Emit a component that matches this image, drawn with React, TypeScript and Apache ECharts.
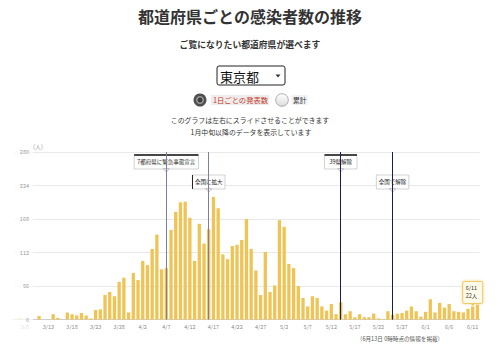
import React, { useEffect, useRef } from "react";
import * as echarts from "echarts";

// ---- data ----
const dates: string[] = [
  "3/6", "3/7", "3/8", "3/9", "3/10", "3/11", "3/12", "3/13", "3/14", "3/15",
  "3/16", "3/17", "3/18", "3/19", "3/20", "3/21", "3/22", "3/23", "3/24", "3/25",
  "3/26", "3/27", "3/28", "3/29", "3/30", "3/31",
  "4/1", "4/2", "4/3", "4/4", "4/5", "4/6", "4/7", "4/8", "4/9", "4/10",
  "4/11", "4/12", "4/13", "4/14", "4/15", "4/16", "4/17", "4/18", "4/19", "4/20",
  "4/21", "4/22", "4/23", "4/24", "4/25", "4/26", "4/27", "4/28", "4/29", "4/30",
  "5/1", "5/2", "5/3", "5/4", "5/5", "5/6", "5/7", "5/8", "5/9", "5/10",
  "5/11", "5/12", "5/13", "5/14", "5/15", "5/16", "5/17", "5/18", "5/19", "5/20",
  "5/21", "5/22", "5/23", "5/24", "5/25", "5/26", "5/27", "5/28", "5/29", "5/30", "5/31",
  "6/1", "6/2", "6/3", "6/4", "6/5", "6/6", "6/7", "6/8", "6/9", "6/10", "6/11", "6/12",
];

const dailyCases: number[] = [
  0, 3, 0, 0, 0, 6, 0, 0, 9, 3,
  0, 12, 9, 7, 11, 7, 2, 16, 17, 41,
  46, 39, 63, 70, 12, 78,
  66, 98, 91, 118, 142, 84, 86, 150, 180, 196,
  197, 170, 98, 160, 127, 151, 205, 186, 109, 101,
  123, 125, 133, 168, 118, 82, 41, 113, 46, 57,
  166, 155, 93, 86, 56, 36, 22, 39, 36, 22,
  15, 26, 9, 29, 9, 14, 4, 9, 4, 4,
  10, 2, 1, 14, 8, 10, 11, 15, 22, 14, 5,
  13, 34, 12, 28, 20, 26, 14, 13, 12, 18, 22, 25,
];

const tickDates: string[] = [
  "3/8", "3/13", "3/18", "3/23", "3/28", "4/2", "4/7", "4/12", "4/17", "4/22",
  "4/27", "5/2", "5/7", "5/12", "5/17", "5/22", "5/27", "6/1", "6/6", "6/11",
];

const eventDates: string[] = ["4/7", "4/16", "5/14", "5/25"];
const eventTexts: string[] = ["7都府県に緊急事態宣言", "全国に拡大", "39県解除", "全国で解除"];
const eventLineColors: string[] = ["#7d7d9e", "#7d7d9e", "#1b1b4d", "#1b1b4d"];

const yMin = 0;
const yMax = 280;
const yInterval = 56;

const tooltipDate = "6/11";
const unit = "人";

const FONT = "'Noto Sans CJK JP', 'Noto Sans', sans-serif";

export default function App() {
  const ref = useRef<HTMLDivElement>(null);

  useEffect(() => {
    if (!ref.current) return;
    const chart = echarts.init(ref.current, undefined, { renderer: "svg" });

    const option: any = {
      animation: false,
      textStyle: { fontFamily: FONT },
      grid: [
        { left: 33, right: 20.2, top: 152, bottom: 24.4 },
        { left: 13.1, right: 20.2, top: 152, bottom: 24.4 },
      ],
      xAxis: [
        { gridIndex: 0, type: "value", show: false, min: 0, max: 1 },
        {
          gridIndex: 1,
          type: "category",
          data: dates,
          axisTick: { show: false },
          axisLine: { lineStyle: { color: "#cfcfcf", width: 1 } },
          axisLabel: {
            interval: (i: number) => tickDates.includes(dates[i]),
            fontSize: 5.5,
            color: "#8a8a8a",
            margin: 5,
          },
        },
      ],
      yAxis: [
        {
          gridIndex: 0,
          type: "value",
          min: yMin,
          max: yMax,
          interval: yInterval,
          z: 10,
          name: "(" + unit + ")",
          nameLocation: "end",
          nameGap: 2,
          nameTextStyle: { align: "left", fontSize: 6, color: "#999" },
          axisLine: { show: false },
          axisTick: { show: false },
          splitLine: { show: false },
          axisLabel: { fontSize: 5.5, color: "#999", margin: 4 },
        },
        {
          gridIndex: 1,
          type: "value",
          min: yMin,
          max: yMax,
          interval: yInterval,
          axisLine: { show: false },
          axisTick: { show: false },
          axisLabel: { show: false },
          splitLine: { lineStyle: { color: "#e9e9e9", width: 1 } },
        },
      ],
      series: [
        {
          type: "bar",
          xAxisIndex: 1,
          yAxisIndex: 1,
          data: dailyCases,
          barCategoryGap: "30%",
          itemStyle: { color: "#EFC455" },
          markLine: {
            silent: true,
            symbol: ["none", "none"],
            label: { show: false },
            data: eventDates.map((d, i) => ({
              xAxis: d,
              lineStyle: { color: eventLineColors[i], width: 1, type: "solid" },
            })),
          },
        },
      ],
    };

    chart.setOption(option);

    const toPx = (d: string, v: number): number[] =>
      chart.convertToPixel({ seriesIndex: 0 }, [d, v]) as number[];

    const callouts: any[] = eventDates.map((d, i) => {
      const [cx] = toPx(d, 0);
      const level = i % 2;
      const top = level === 0 ? 155 : 175;
      const w = eventTexts[i].length * 5.3 + 6;
      const h = 14;
      const children: any[] = [
        {
          type: "rect",
          shape: { x: cx - w / 2, y: top, width: w, height: h },
          style: { fill: "#fff", stroke: "#b5b5b5", lineWidth: 0.6 },
        },
        {
          type: "polygon",
          shape: { points: [[cx - 3, top + h - 0.3], [cx + 3, top + h - 0.3], [cx, top + h + 3]] },
          style: { fill: "#fff", stroke: "#999", lineWidth: 0.6 },
        },
        {
          type: "text",
          style: {
            x: cx,
            y: top + h / 2,
            text: eventTexts[i],
            align: "center",
            verticalAlign: "middle",
            fontSize: 5.5,
            fill: "#222",
            fontFamily: FONT,
          },
        },
      ];
      if (i === 0 || i === 2) {
        children.push({
          type: "line",
          shape: { x1: cx - w / 2, y1: top, x2: cx + w / 2, y2: top },
          style: { stroke: "#111", lineWidth: 1.5 },
        });
      } else if (i === 1) {
        children.push({
          type: "line",
          shape: { x1: cx - w / 2, y1: top, x2: cx - w / 2, y2: top + h },
          style: { stroke: "#222", lineWidth: 1 },
        });
      }
      return { type: "group", z: 20, children };
    });

    const tipIdx = dates.indexOf(tooltipDate);
    const [tx, ty] = toPx(tooltipDate, dailyCases[tipIdx]);
    const tw = 20;
    const th = 22;
    const tTop = ty - 3 - th;
    const tooltipGroup = {
      type: "group",
      z: 30,
      children: [
        {
          type: "rect",
          shape: { x: tx - tw / 2, y: tTop, width: tw, height: th, r: 1.5 },
          style: {
            fill: "#fffbea",
            stroke: "#ecc95e",
            lineWidth: 1,
            shadowBlur: 3,
            shadowColor: "rgba(236,190,70,0.5)",
          },
        },
        {
          type: "polygon",
          shape: { points: [[tx - 2.5, tTop + th], [tx + 2.5, tTop + th], [tx, tTop + th + 2.5]] },
          style: { fill: "#ecc95e" },
        },
        {
          type: "text",
          style: {
            x: tx - tw / 2 + 3,
            y: tTop + th / 2,
            text: tooltipDate + "\n" + dailyCases[tipIdx] + unit,
            align: "left",
            verticalAlign: "middle",
            fontSize: 5.5,
            lineHeight: 8,
            fill: "#333",
            fontFamily: FONT,
          },
        },
      ],
    };

    const staticGraphics: any[] = [
      {
        type: "text",
        z: 20,
        style: {
          x: 250, y: 16, text: "都道府県ごとの感染者数の推移",
          align: "center", verticalAlign: "middle",
          fontSize: 16, fontWeight: "bold", fill: "#333", fontFamily: FONT,
        },
      },
      {
        type: "text",
        z: 20,
        style: {
          x: 250, y: 44, text: "ご覧になりたい都道府県が選べます",
          align: "center", verticalAlign: "middle",
          fontSize: 8.8, fontWeight: "bold", fill: "#333", fontFamily: FONT,
        },
      },
      {
        type: "rect",
        z: 20,
        shape: { x: 217, y: 66, width: 68, height: 19, r: 2 },
        style: { fill: "#fff", stroke: "#222", lineWidth: 1 },
      },
      {
        type: "text",
        z: 21,
        style: {
          x: 220, y: 76, text: "東京都", align: "left", verticalAlign: "middle",
          fontSize: 13, fill: "#111", fontFamily: FONT,
        },
      },
      {
        type: "polygon",
        z: 21,
        shape: { points: [[275.5, 74.5], [280.5, 74.5], [278, 77.5]] },
        style: { fill: "#333" },
      },
      { type: "circle", z: 20, shape: { cx: 200, cy: 100, r: 6.5 }, style: { fill: "#4f4f4f" } },
      { type: "circle", z: 21, shape: { cx: 200, cy: 100, r: 4 }, style: { fill: "#9a9a9a" } },
      { type: "circle", z: 22, shape: { cx: 200, cy: 100, r: 2.5 }, style: { fill: "#3c3c3c" } },
      {
        type: "rect",
        z: 20,
        shape: { x: 211, y: 95, width: 58, height: 10 },
        style: { fill: "#f1ecec" },
      },
      {
        type: "text",
        z: 21,
        style: {
          x: 213, y: 100, text: "1日ごとの発表数", align: "left", verticalAlign: "middle",
          fontSize: 7.3, fill: "#c0392b", fontFamily: FONT,
        },
      },
      {
        type: "circle",
        z: 20,
        shape: { cx: 282, cy: 100, r: 6.3 },
        style: {
          fill: new echarts.graphic.LinearGradient(0, 0, 0, 1, [
            { offset: 0, color: "#ffffff" },
            { offset: 1, color: "#dcdcdc" },
          ]),
          stroke: "#9a9a9a",
          lineWidth: 0.8,
        },
      },
      {
        type: "rect",
        z: 20,
        shape: { x: 291.5, y: 95, width: 16, height: 10 },
        style: { fill: "#f2f2f2" },
      },
      {
        type: "text",
        z: 21,
        style: {
          x: 293, y: 100, text: "累計", align: "left", verticalAlign: "middle",
          fontSize: 6.8, fill: "#333", fontFamily: FONT,
        },
      },
      {
        type: "text",
        z: 20,
        style: {
          x: 250, y: 120, text: "このグラフは左右にスライドさせることができます",
          align: "center", verticalAlign: "middle", fontSize: 6.9, fill: "#333", fontFamily: FONT,
        },
      },
      {
        type: "text",
        z: 20,
        style: {
          x: 251, y: 132, text: "1月中旬以降のデータを表示しています",
          align: "center", verticalAlign: "middle", fontSize: 6.9, fill: "#333", fontFamily: FONT,
        },
      },
      {
        type: "text",
        z: 20,
        style: {
          x: 400, y: 338.5, text: "（6月13日 0時時点の情報を掲載）",
          align: "center", verticalAlign: "middle", fontSize: 5.6, fill: "#555", fontFamily: FONT,
        },
      },
      {
        type: "rect",
        z: 5,
        shape: { x: 0, y: 140, width: 33, height: 204 },
        style: { fill: "rgba(255,255,255,0.72)" },
      },
    ];

    chart.setOption({
      graphic: { elements: [...staticGraphics, ...callouts, tooltipGroup] },
    });

    return () => chart.dispose();
  }, []);

  return (
    <div
      ref={ref}
      style={{ position: "absolute", left: 0, top: 0, width: 500, height: 344, background: "#fff" }}
    />
  );
}
